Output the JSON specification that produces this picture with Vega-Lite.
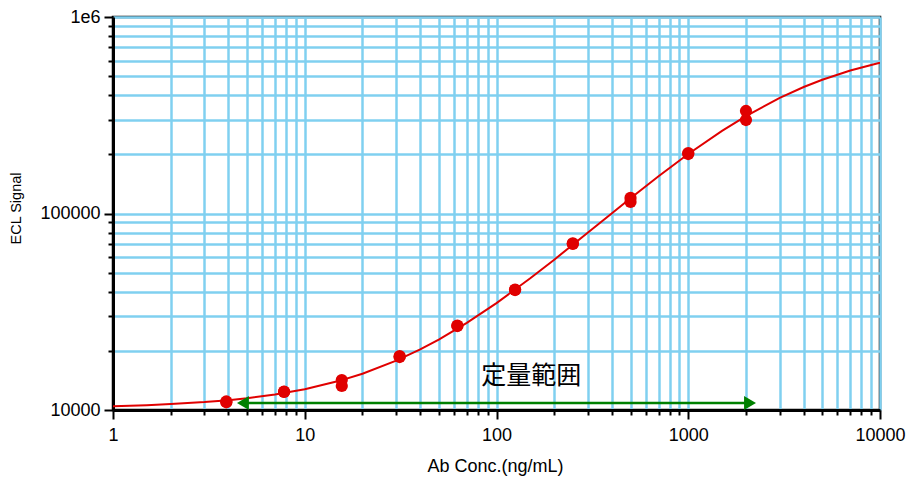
{
  "$schema": "https://vega.github.io/schema/vega-lite/v6.json",
  "width": 767,
  "height": 393,
  "autosize": "none",
  "padding": {"left": 113, "top": 17, "right": 26, "bottom": 67},
  "config": {
    "view": {"stroke": "black", "strokeWidth": 2.5},
    "font": "Liberation Sans"
  },
  "datasets": {
    "curve": [
      {"conc": 1, "signal": 10457}, {"conc": 1.5, "signal": 10585}, {"conc": 2, "signal": 10713},
      {"conc": 3, "signal": 10969}, {"conc": 4, "signal": 11225}, {"conc": 5, "signal": 11481},
      {"conc": 7, "signal": 11993}, {"conc": 10, "signal": 12758}, {"conc": 15, "signal": 14031},
      {"conc": 20, "signal": 15299}, {"conc": 30, "signal": 17822}, {"conc": 40, "signal": 20328},
      {"conc": 50, "signal": 22816}, {"conc": 70, "signal": 27744}, {"conc": 100, "signal": 35010},
      {"conc": 150, "signal": 46801}, {"conc": 200, "signal": 58211}, {"conc": 300, "signal": 79952},
      {"conc": 400, "signal": 100369}, {"conc": 500, "signal": 119579}, {"conc": 700, "signal": 154780},
      {"conc": 1000, "signal": 200779}, {"conc": 1500, "signal": 263449}, {"conc": 2000, "signal": 313282},
      {"conc": 3000, "signal": 387530}, {"conc": 4000, "signal": 440201}, {"conc": 5000, "signal": 479506},
      {"conc": 7000, "signal": 534252}, {"conc": 9000, "signal": 570000}, {"conc": 10000, "signal": 584496}
    ],
    "points": [
      {"conc": 3.9, "signal": 10950}, {"conc": 3.9, "signal": 11050},
      {"conc": 7.8, "signal": 12350}, {"conc": 7.8, "signal": 12400},
      {"conc": 15.6, "signal": 14200}, {"conc": 15.6, "signal": 13250},
      {"conc": 31.25, "signal": 18600}, {"conc": 31.25, "signal": 18800},
      {"conc": 62.5, "signal": 26750}, {"conc": 62.5, "signal": 26900},
      {"conc": 125, "signal": 40800}, {"conc": 125, "signal": 41000},
      {"conc": 250, "signal": 70000}, {"conc": 250, "signal": 70500},
      {"conc": 500, "signal": 120000}, {"conc": 500, "signal": 114500},
      {"conc": 1000, "signal": 200800}, {"conc": 1000, "signal": 203000},
      {"conc": 2000, "signal": 332500}, {"conc": 2000, "signal": 299000}
    ],
    "arrow": [{"from": 4.76, "to": 2100, "signal": 10855}],
    "heads": [
      {"conc": 4.76, "signal": 10855, "shape": "triangle-left"},
      {"conc": 2100, "signal": 10855, "shape": "triangle-right"}
    ],
    "label": [{"conc": 152, "signal": 14980, "text": "定量範囲"}]
  },
  "layer": [
    {
      "data": {"name": "curve"},
      "mark": {"type": "line", "color": "#e00000", "strokeWidth": 2, "clip": true},
      "encoding": {
        "x": {
          "field": "conc", "type": "quantitative",
          "scale": {"type": "log", "domain": [1, 10000], "nice": false},
          "axis": {
            "orient": "bottom",
            "values": [1,2,3,4,5,6,7,8,9,10,20,30,40,50,60,70,80,90,100,200,300,400,500,600,700,800,900,1000,2000,3000,4000,5000,6000,7000,8000,9000,10000],
            "labelExpr": "indexof([1,10,100,1000,10000], datum.value) >= 0 ? format(datum.value, 'd') : ''",
            "labelOverlap": false, "labelBound": false, "labelFlush": false,
            "labelFontSize": 18, "labelColor": "black", "labelPadding": 7,
            "tickSize": {"condition": {"test": "indexof([1,10,100,1000,10000], datum.value) >= 0", "value": 9}, "value": 5},
            "tickColor": "black", "tickWidth": 2,
            "domainColor": "black", "domainWidth": 3,
            "grid": true, "gridColor": "#80d0f0", "gridWidth": 2.5, "gridOpacity": 1,
            "title": "Ab Conc.(ng/mL)", "titleFontSize": 18, "titleFontWeight": "normal", "titleColor": "black",
            "titleX": 382, "titleY": 56, "titleBaseline": "middle"
          }
        },
        "y": {
          "field": "signal", "type": "quantitative",
          "scale": {"type": "log", "domain": [10000, 1000000], "nice": false},
          "axis": {
            "orient": "left",
            "values": [10000,20000,30000,40000,50000,60000,70000,80000,90000,100000,200000,300000,400000,500000,600000,700000,800000,900000,1000000],
            "labelExpr": "datum.value == 1000000 ? '1e6' : (datum.value == 10000 || datum.value == 100000 ? format(datum.value, 'd') : '')",
            "labelOverlap": false, "labelBound": false, "labelFlush": false,
            "labelFontSize": 18, "labelColor": "black", "labelPadding": 4,
            "tickSize": {"condition": {"test": "indexof([10000,100000,1000000], datum.value) >= 0", "value": 9}, "value": 5},
            "tickColor": "black", "tickWidth": 2,
            "domainColor": "black", "domainWidth": 3,
            "grid": true, "gridColor": "#80d0f0", "gridWidth": 2.5, "gridOpacity": 1,
            "title": "ECL Signal", "titleFontSize": 14.5, "titleFontWeight": "normal", "titleColor": "black",
            "titleX": -97, "titleY": 191, "titleBaseline": "middle", "titleAngle": -90
          }
        }
      }
    },
    {
      "data": {"name": "arrow"},
      "mark": {"type": "rule", "color": "#008000", "strokeWidth": 2.5},
      "encoding": {
        "x": {"field": "from", "type": "quantitative"},
        "x2": {"field": "to"},
        "y": {"field": "signal", "type": "quantitative"}
      }
    },
    {
      "data": {"name": "heads"},
      "mark": {"type": "point", "filled": true, "color": "#008000", "size": 190, "opacity": 1},
      "encoding": {
        "x": {"field": "conc", "type": "quantitative"},
        "y": {"field": "signal", "type": "quantitative"},
        "shape": {"field": "shape", "type": "nominal", "scale": null}
      }
    },
    {
      "data": {"name": "points"},
      "mark": {"type": "circle", "color": "#e00000", "size": 150, "opacity": 1},
      "encoding": {
        "x": {"field": "conc", "type": "quantitative"},
        "y": {"field": "signal", "type": "quantitative"}
      }
    },
    {
      "data": {"name": "label"},
      "mark": {"type": "text", "font": "Noto Sans CJK JP", "fontSize": 25, "color": "black", "align": "center", "baseline": "middle"},
      "encoding": {
        "x": {"field": "conc", "type": "quantitative"},
        "y": {"field": "signal", "type": "quantitative"},
        "text": {"field": "text"}
      }
    }
  ]
}
